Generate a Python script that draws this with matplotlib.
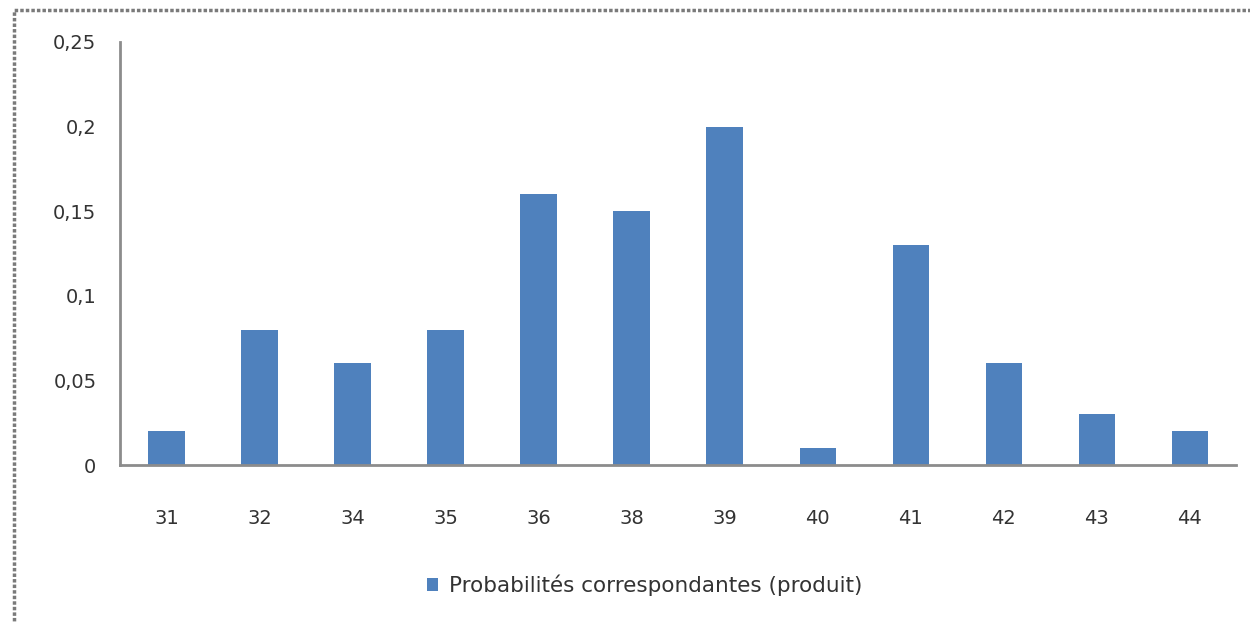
import matplotlib.pyplot as plt
from matplotlib.patches import Rectangle

categories = ["31", "32", "34", "35", "36", "38", "39", "40", "41", "42", "43", "44"]
probas = [0.02, 0.08, 0.06, 0.08, 0.16, 0.15, 0.20, 0.01, 0.13, 0.06, 0.03, 0.02]
yticks = [0, 0.05, 0.1, 0.15, 0.2, 0.25]
ylabels = ["0", "0,05", "0,1", "0,15", "0,2", "0,25"]

plt.rcParams['font.family'] = ['DejaVu Sans']

fig = plt.figure(figsize=(12.5, 6.23), dpi=100)
ax = fig.add_axes([0.096, 0.2536, 0.893, 0.679])

x = range(len(categories))
ax.bar(x, probas, width=0.39, color='#4F81BD', label='Probabilités correspondantes (produit)')

ax.set_xlim(-0.5, len(categories) - 0.5)
ax.set_ylim(0, 0.25)
ax.set_xticks(list(x))
ax.set_xticklabels(categories, fontsize=14, color='#333333')
ax.set_yticks(yticks)
ax.set_yticklabels(ylabels, fontsize=14, color='#333333')
ax.tick_params(length=0)
ax.tick_params(axis='x', pad=32)
ax.tick_params(axis='y', pad=17)

for side in ['top', 'right']:
    ax.spines[side].set_visible(False)
for side in ['left', 'bottom']:
    ax.spines[side].set_color('#8c8c8c')
    ax.spines[side].set_linewidth(2)

ax.legend(loc='center', bbox_to_anchor=(0.47, -0.285), frameon=False,
          fontsize=15.5, handlelength=0.55, handleheight=0.55, handletextpad=0.5,
          labelcolor='#333333')

# outer chart frame
fig.patches.append(Rectangle((14 / 1250, -0.05), 1.2, 1 - 10 / 623 + 0.05,
                             transform=fig.transFigure, fill=False,
                             edgecolor='#7a7a7a', linewidth=2.5, linestyle=(0, (1, 0.6))))

fig.savefig('out.png', dpi=100)
